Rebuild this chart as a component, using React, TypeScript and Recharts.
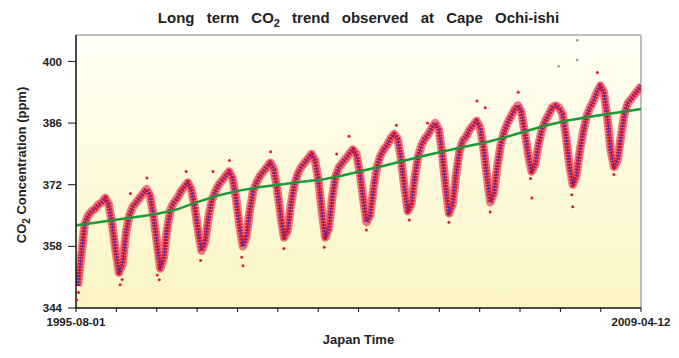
import { ComposedChart, Line, Scatter, XAxis, YAxis, CartesianGrid, ReferenceLine } from 'recharts';

// monthly CO2 at Cape Ochi-ishi (ppm), Jan..Dec
const years = [1995, 1996, 1997, 1998, 1999, 2000, 2001, 2002, 2003, 2004, 2005, 2006, 2007, 2008, 2009];
const co2ByYear: (number | null)[][] = [
    [null, null, null, null, null, null, null, 349, 356, 363, 365, 366],
    [366.5, 367.5, 368, 369, 367.5, 363, 357, 352, 354, 361, 365, 367],
    [368, 369, 370, 371, 369.5, 365, 359, 353, 355.5, 362, 366.5, 368],
    [369, 370.5, 371.5, 372.5, 371, 367, 361.5, 357, 359, 364.5, 368.5, 370.5],
    [372, 373, 374, 375, 373.5, 369, 363, 358, 360, 366, 370.5, 372.5],
    [374, 375, 376, 377, 375.5, 371, 365, 360, 361.5, 367.5, 372, 374.5],
    [376, 377, 378, 379, 377.5, 373, 366, 360, 362, 369, 374, 376],
    [377, 378, 379, 380, 379, 375, 369, 363.5, 365, 371, 376, 378.5],
    [380, 381, 382.5, 383.5, 382.5, 378, 371.5, 366, 367.5, 373.5, 378.5, 381],
    [382.5, 383.5, 385, 386, 384.5, 379, 371.5, 365.5, 367.5, 374, 379.5, 382],
    [383, 384.5, 385.5, 386.5, 385, 380.5, 374, 368, 370, 376, 381, 384],
    [386, 387.5, 389, 390, 388.5, 384, 379, 375, 376.5, 381, 384.5, 386.5],
    [388, 389.5, 390, 389.5, 388, 383, 376.5, 372, 374, 379.5, 384, 387.5],
    [389.5, 391, 393, 394.5, 393, 387.5, 380, 376, 377.5, 383, 388, 390.5],
    [391.5, 392.5, 393.5, 394.5, null, null, null, null, null, null, null, null],
];

// long term trend (green)
const trendTime = [1995.6, 1996, 1996.5, 1997, 1997.5, 1998, 1998.5, 1999, 1999.5, 2000, 2000.5, 2001, 2001.5, 2002, 2002.5, 2003, 2003.5, 2004, 2004.5, 2005, 2005.5, 2006, 2006.5, 2007, 2007.5, 2008, 2008.5, 2009, 2009.28];
const trendValue = [362.8, 363.3, 364, 364.6, 365.3, 366.3, 368, 369.5, 370.6, 371.4, 372, 372.6, 373.1, 374, 375.1, 376.2, 377.4, 378.5, 379.6, 380.6, 381.6, 382.8, 384.2, 385.5, 386.6, 387.4, 388.1, 388.8, 389.2];

// scattered hourly points away from the main band
const outlierTime = [1995.6, 1995.64, 1996.65, 1996.7, 1997.55, 1997.6, 1998.6, 1999.6, 1999.63, 2000.62, 2001.6, 2002.62, 2003.66, 2004.62, 2005.62, 2006.6, 2006.63, 2007.6, 2007.62, 2008.62, 1997.3, 1998.25, 1999.3, 2000.3, 2002.2, 2003.35, 2005.3, 2005.5, 2006.3, 2008.22, 1996.9, 1998.9, 2001.9, 2004.1];
const outlierValue = [345.8, 347.5, 349.3, 350.5, 351.5, 350.4, 354.8, 355.5, 353.6, 357.5, 357.8, 361.7, 364, 363.5, 365.8, 373.4, 369, 369.7, 367, 374.3, 373.5, 375, 377.5, 379.5, 383, 385.5, 391, 389.5, 393, 397.5, 370, 375, 379, 386];

// grey spikes near the top
const spikeTime = [2007.73, 2007.73, 2007.28];
const spikeValue = [404.8, 400.3, 398.9];

const yTicks = [344, 358, 372, 386, 400];
const xTicks = [1995.581, 1996.56, 1997.538, 1998.517, 1999.495, 2000.474, 2001.452, 2002.431, 2003.409, 2004.388, 2005.367, 2006.345, 2007.324, 2008.302, 2009.277];
const xTickLabels = ['1995-08-01', '', '', '', '', '', '', '', '', '', '', '', '', '', '2009-04-12'];

const monthly: { t: number; co2: number }[] = [];
years.forEach((y, yi) => {
    co2ByYear[yi].forEach((v, m) => {
        if (v != null) monthly.push({ t: y + (m + 0.5) / 12, co2: v });
    });
});
const trendData = trendTime.map((t, i) => ({ t, trend: trendValue[i] }));
const outlierData = outlierTime.map((t, i) => ({ t, v: outlierValue[i] }));
const spikeData = spikeTime.map((t, i) => ({ t, v: spikeValue[i] }));

const FONT = "'Liberation Sans', Arial, sans-serif";
const tickStyle = { fontSize: 11.5, fontWeight: 'bold' as const, fill: '#222', fontFamily: FONT };

export default function App() {
    return (
        <div style={{ position: 'relative', width: 663, height: 342, fontFamily: FONT }}>
            <ComposedChart width={663} height={342} data={monthly} margin={{ top: 27, right: 30, bottom: 12, left: 0 }}>
                <defs>
                    <linearGradient id="bg" x1="0" y1="0" x2="0" y2="1">
                        <stop offset="0%" stopColor="#fffff6" />
                        <stop offset="100%" stopColor="#fbf5c2" />
                    </linearGradient>
                </defs>
                <CartesianGrid horizontal={false} vertical={false} fill="url(#bg)" />
                <XAxis
                    type="number"
                    dataKey="t"
                    domain={[1995.581, 2009.277]}
                    allowDataOverflow
                    ticks={xTicks}
                    interval={0}
                    tickFormatter={(_v: number, i: number) => xTickLabels[i]}
                    tick={tickStyle}
                    tickSize={4}
                    tickMargin={6}
                    axisLine={{ stroke: '#111', strokeWidth: 1.5 }}
                    tickLine={{ stroke: '#111' }}
                    height={30}
                />
                <YAxis
                    type="number"
                    domain={[344, 406]}
                    allowDataOverflow
                    ticks={yTicks}
                    interval={0}
                    tick={tickStyle}
                    tickSize={8}
                    tickMargin={6}
                    axisLine={{ stroke: '#111', strokeWidth: 1.5 }}
                    tickLine={{ stroke: '#111' }}
                    width={68}
                />
                <ReferenceLine y={406} stroke="#aaa" strokeWidth={1.5} />
                <ReferenceLine x={2009.277} stroke="#aaa" strokeWidth={1.5} />
                <Line dataKey="co2" stroke="#e52040" strokeOpacity={0.6} strokeWidth={8.5} strokeLinejoin="round" dot={false} isAnimationActive={false} />
                <Line dataKey="co2" stroke="#d9102f" strokeWidth={5} strokeLinejoin="round" strokeDasharray="2 1" dot={false} isAnimationActive={false} />
                <Line dataKey="co2" stroke="#3535c8" strokeOpacity={0.85} strokeWidth={1} dot={false} isAnimationActive={false} />
                <Line data={trendData} dataKey="trend" stroke="#1d9a38" strokeWidth={2.5} dot={false} isAnimationActive={false} />
                <Scatter data={outlierData} dataKey="v" isAnimationActive={false}
                    shape={(p: any) => <circle cx={p.cx} cy={p.cy} r={1.5} fill="#e01a3a" />} />
                <Scatter data={spikeData} dataKey="v" isAnimationActive={false}
                    shape={(p: any) => <circle cx={p.cx} cy={p.cy} r={1.3} fill="#999" />} />
            </ComposedChart>
            <div style={{ position: 'absolute', zIndex: 2, left: 68, top: 1, width: 565, textAlign: 'center', fontSize: 15, fontWeight: 'bold', color: '#222', wordSpacing: 8, lineHeight: '18px' }}>
                Long term CO<sub style={{ fontSize: 11 }}>2</sub> trend observed at Cape Ochi-ishi
            </div>
            <div style={{ position: 'absolute', zIndex: 2, left: 14 - 150, top: 157 - 10, width: 300, height: 20, lineHeight: '20px', textAlign: 'center', transform: 'rotate(-90deg)', fontSize: 13, fontWeight: 'bold', color: '#222' }}>
                CO<sub style={{ fontSize: 10 }}>2</sub> Concentration (ppm)
            </div>
            <div style={{ position: 'absolute', zIndex: 2, left: 68, top: 324, width: 565, lineHeight: '15px', textAlign: 'center', fontSize: 13, fontWeight: 'bold', color: '#222' }}>
                Japan Time
            </div>
        </div>
    );
}
